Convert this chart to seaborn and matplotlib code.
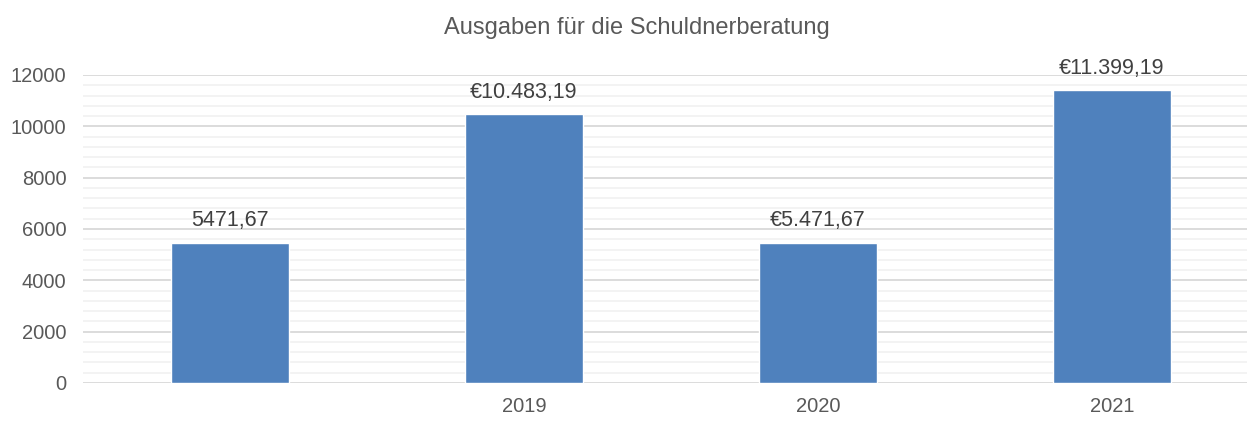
import matplotlib
matplotlib.use("Agg")
import matplotlib.pyplot as plt
import seaborn as sns
import pandas as pd
from matplotlib.ticker import MultipleLocator

categories = ["", "2019", "2020", "2021"]
values = [5471.67, 10483.19, 5471.67, 11399.19]
value_labels = ["5471,67", "€10.483,19", "€5.471,67", "€11.399,19"]
title = "Ausgaben für die Schuldnerberatung"
y_ticks = [0, 2000, 4000, 6000, 8000, 10000, 12000]

sns.set_theme(style="white")
plt.rcParams['font.family'] = ['Liberation Sans', 'DejaVu Sans']

df = pd.DataFrame({"Jahr": categories, "Betrag": values})

fig = plt.figure(figsize=(12.47, 4.21), dpi=100)
ax = fig.add_axes([83/1247, 1 - 383/421, 1 - 83/1247, 308/421])

sns.barplot(data=df, x="Jahr", y="Betrag", color="#4F81BD", width=0.4,
            saturation=1, ax=ax, zorder=3)

ax.set_ylim(0, 12000)
ax.set_xlim(-0.5, 3.46)
ax.set_yticks(y_ticks)
ax.set_yticklabels([str(t) for t in y_ticks])
ax.yaxis.set_minor_locator(MultipleLocator(400))
ax.grid(axis="y", which="major", color="#D9D9D9", linewidth=1.3, zorder=0)
ax.grid(axis="y", which="minor", color="#F2F2F2", linewidth=1.3, zorder=0)
ax.set_axisbelow(True)
for s in ax.spines.values():
    s.set_visible(False)
ax.tick_params(axis="both", which="both", length=0, labelsize=14.5, colors="#595959")
ax.tick_params(axis="y", pad=12)
ax.tick_params(axis="x", pad=10)
ax.set_xlabel("")
ax.set_ylabel("")

for p, lab in zip(ax.patches, value_labels):
    ax.annotate(lab, (p.get_x() + p.get_width() / 2, p.get_height()),
                xytext=(0, 8), textcoords="offset points", ha="center", va="bottom",
                fontsize=15.5, color="#404040")

fig.text(637/1247, 1 - 28/421, title, ha="center", va="center", fontsize=17, color="#595959")

fig.savefig("out.png", dpi=100)
